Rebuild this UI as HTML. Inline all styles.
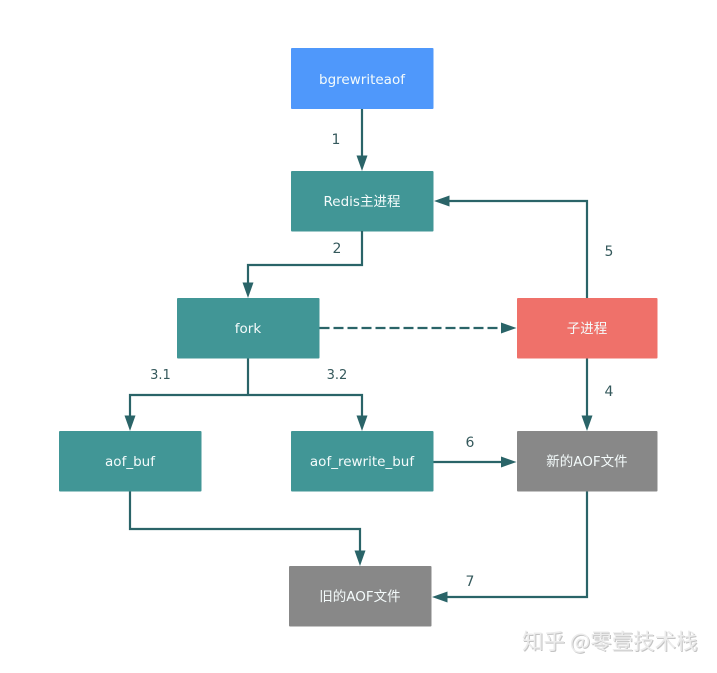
<!DOCTYPE html>
<html><head><meta charset="utf-8"><style>
html,body{margin:0;padding:0;background:#fff}
svg{display:block}
text{font-family:"DejaVu Sans","Noto Sans CJK SC",sans-serif}
.n{font-size:13.5px;fill:#f4fbfb;text-anchor:middle}
.l{font-size:14px;fill:#35595c;text-anchor:middle}
.c{fill:none;stroke:#2a6468;stroke-width:2.2}
.a{fill:#2a6468}
</style></head><body>
<svg width="717" height="673" viewBox="0 0 717 673" xmlns="http://www.w3.org/2000/svg">
<rect width="717" height="673" fill="#fff"/>
<rect x="291" y="48" width="142.500" height="61" rx="1" fill="#4f98fb"/>
<rect x="291" y="171" width="142.500" height="60.500" rx="1" fill="#419696"/>
<rect x="177" y="298" width="142.500" height="60.500" rx="1" fill="#419696"/>
<rect x="517" y="298" width="140.500" height="60.500" rx="1" fill="#ef716a"/>
<rect x="59" y="431" width="142.500" height="60.500" rx="1" fill="#419696"/>
<rect x="291" y="431" width="142.500" height="60.500" rx="1" fill="#419696"/>
<rect x="517" y="431" width="140.500" height="60.500" rx="1" fill="#888888"/>
<rect x="289" y="566" width="142.500" height="60.500" rx="1" fill="#888888"/>

<text x="362" y="84" class="n">bgrewriteaof</text>
<text x="362" y="206" class="n">Redis主进程</text>
<text x="248" y="333" class="n">fork</text>
<text x="587" y="333" class="n">子进程</text>
<text x="130" y="466" class="n">aof_buf</text>
<text x="362" y="466" class="n">aof_rewrite_buf</text>
<text x="587" y="466" class="n">新的AOF文件</text>
<text x="360" y="601" class="n">旧的AOF文件</text>

<path class="c" d="M362 109V157"/><path class="a" d="M356.500 155.500h11l-5.500 15.500z"/>
<path class="c" d="M362 231V265H248V284"/><path class="a" d="M242.500 282.500h11l-5.500 15.500z"/>
<path class="c" d="M587 298V201H448"/><path class="a" d="M449.500 195.500v11l-15.500-5.500z"/>
<path class="c" d="M319.500 328H503" stroke-dasharray="10 4"/><path class="a" d="M501 322.500v11l15.500-5.500z"/>
<path class="c" d="M587 358.500V417"/><path class="a" d="M581.500 415.500h11l-5.500 15.500z"/>
<path class="c" d="M248 358.500V395"/>
<path class="c" d="M130 417V395H362V417"/><path class="a" d="M124.500 415.500h11l-5.500 15.500z"/><path class="a" d="M356.500 415.500h11l-5.500 15.500z"/>
<path class="c" d="M433.500 462H503"/><path class="a" d="M501 456.500v11l15.500-5.500z"/>
<path class="c" d="M130 491.500V529H360V552"/><path class="a" d="M354.500 550.500h11l-5.500 15.500z"/>
<path class="c" d="M587 491.500V597H446"/><path class="a" d="M447.500 591.500v11l-15.500-5.500z"/>

<text x="336" y="144" class="l">1</text>
<text x="337" y="253" class="l">2</text>
<text x="609" y="256" class="l">5</text>
<text x="160.500" y="379" class="l" style="font-size:13px">3.1</text>
<text x="337" y="379" class="l" style="font-size:13px">3.2</text>
<text x="609" y="396" class="l">4</text>
<text x="470" y="447" class="l">6</text>
<text x="470" y="586" class="l">7</text>

<text x="523" y="650" font-size="21.5" fill="#c4c4c4" style="font-family:'Noto Sans CJK SC',sans-serif">知乎 @零壹技术栈</text>
<text x="522" y="649" font-size="21.5" fill="#ececec" style="font-family:'Noto Sans CJK SC',sans-serif">知乎 @零壹技术栈</text>
</svg>
</body></html>
